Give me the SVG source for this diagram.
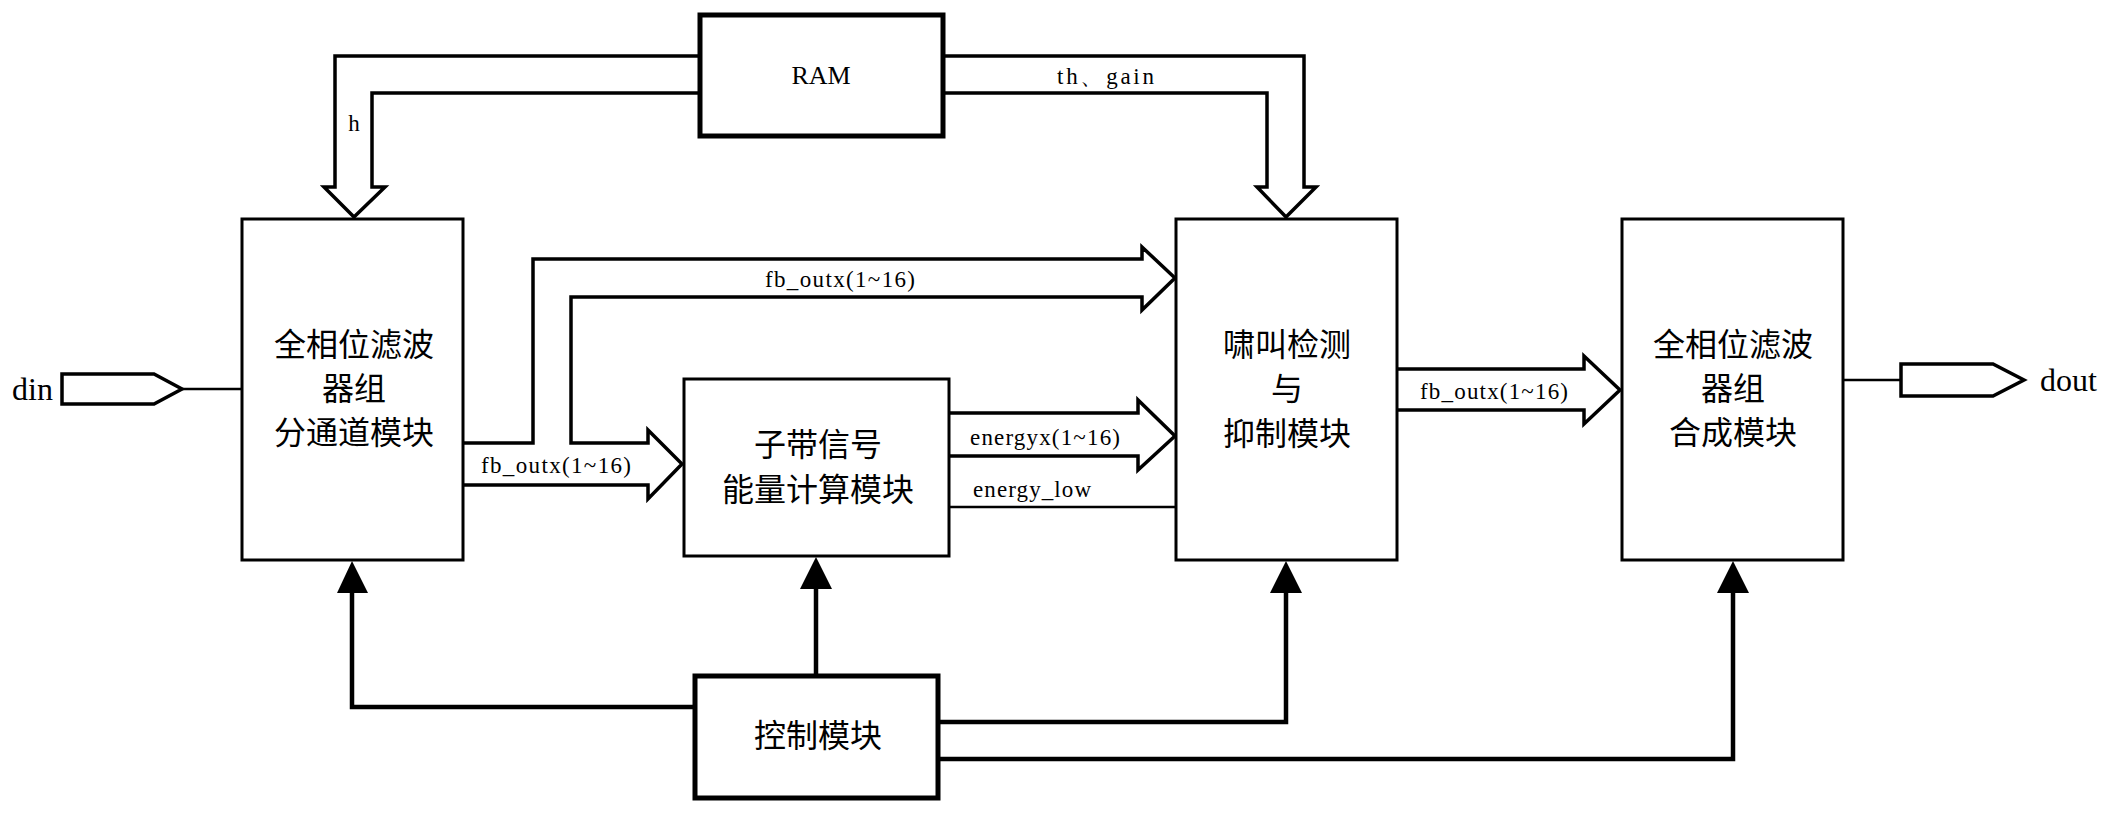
<svg xmlns="http://www.w3.org/2000/svg" width="2116" height="813" viewBox="0 0 2116 813">
<style>
.box{fill:#fff;stroke:#000;stroke-width:3}
.tbox{fill:#fff;stroke:#000;stroke-width:5}
.bus{fill:none;stroke:#000;stroke-width:3.5;stroke-linejoin:miter}
.ln{fill:none;stroke:#000;stroke-width:2.5}
.ctl{fill:none;stroke:#000;stroke-width:4.5}
.cn{font-family:"Noto Sans CJK SC",sans-serif;font-size:32px;text-anchor:middle;fill:#000}
.lb{font-family:"Liberation Serif",serif;font-size:23px;fill:#000}
.io{font-family:"Liberation Serif",serif;font-size:32px;fill:#000}
</style>
<g id="connectors">
<path class="bus" d="M700,56 H335 V187 H324 L354,217 L385,187 H372 V93 H700"/>
<path class="bus" d="M943,56 H1304 V187 H1316 L1286,217 L1257,187 H1267 V93 H943"/>
<path class="bus" d="M463,443 H533 V259 H1142 V247 L1175,278 L1142,310 V297 H571 V443 H648 V430 L682,464 L648,499 V485 H463"/>
<path class="bus" d="M949,413 H1138 V400 L1175,436 L1138,470 V456 H949"/>
<path class="bus" d="M1397,369 H1584 V356 L1620,390 L1584,424 V410 H1397"/>
<line class="ln" x1="949" y1="507" x2="1176" y2="507"/>
<line class="ln" x1="182" y1="389" x2="242" y2="389"/>
<line class="ln" x1="1843" y1="380" x2="1901" y2="380"/>
<path class="bus" d="M62,374 H154 L182,389 L154,404 H62 Z"/>
<path class="bus" d="M1901,364 H1993 L2024,380 L1993,396 H1901 Z"/>
<path class="ctl" d="M695,707 H352 V590"/>
<polygon points="337,593 368,593 352,561"/>
<path class="ctl" d="M816,676 V586"/>
<polygon points="800,589 832,589 816,557"/>
<path class="ctl" d="M938,722 H1286 V590"/>
<polygon points="1270,593 1302,593 1286,561"/>
<path class="ctl" d="M938,759 H1733 V590"/>
<polygon points="1717,593 1749,593 1733,561"/>
<text class="lb" x="354" y="131" text-anchor="middle">h</text>
<text class="lb" x="1057" y="84" textLength="97">th、gain</text>
<text class="lb" x="765" y="287" textLength="150">fb_outx(1~16)</text>
<text class="lb" x="481" y="473" textLength="150">fb_outx(1~16)</text>
<text class="lb" x="970" y="445" textLength="150">energyx(1~16)</text>
<text class="lb" x="973" y="497" textLength="118">energy_low</text>
<text class="lb" x="1420" y="399" textLength="148">fb_outx(1~16)</text>
<text class="io" x="12" y="400">din</text>
<text class="io" x="2040" y="391">dout</text>
</g>
<g id="ram"><rect class="tbox" x="700" y="15" width="243" height="121"/><text x="821" y="84" text-anchor="middle" style="font-family:'Liberation Serif',serif;font-size:26px">RAM</text></g>
<g id="split"><rect class="box" x="242" y="219" width="221" height="341"/>
<text class="cn" x="354" y="356">全相位滤波</text><text class="cn" x="354" y="400">器组</text><text class="cn" x="354" y="444">分通道模块</text></g>
<g id="energy"><rect class="box" x="684" y="379" width="265" height="177"/>
<text class="cn" x="818" y="456">子带信号</text><text class="cn" x="818" y="501">能量计算模块</text></g>
<g id="howl"><rect class="box" x="1176" y="219" width="221" height="341"/>
<text class="cn" x="1287" y="356">啸叫检测</text><text class="cn" x="1287" y="400">与</text><text class="cn" x="1287" y="445">抑制模块</text></g>
<g id="synth"><rect class="box" x="1622" y="219" width="221" height="341"/>
<text class="cn" x="1733" y="356">全相位滤波</text><text class="cn" x="1733" y="400">器组</text><text class="cn" x="1733" y="444">合成模块</text></g>
<g id="control"><rect class="tbox" x="695" y="676" width="243" height="122"/><text class="cn" x="818" y="747">控制模块</text></g>
</svg>
